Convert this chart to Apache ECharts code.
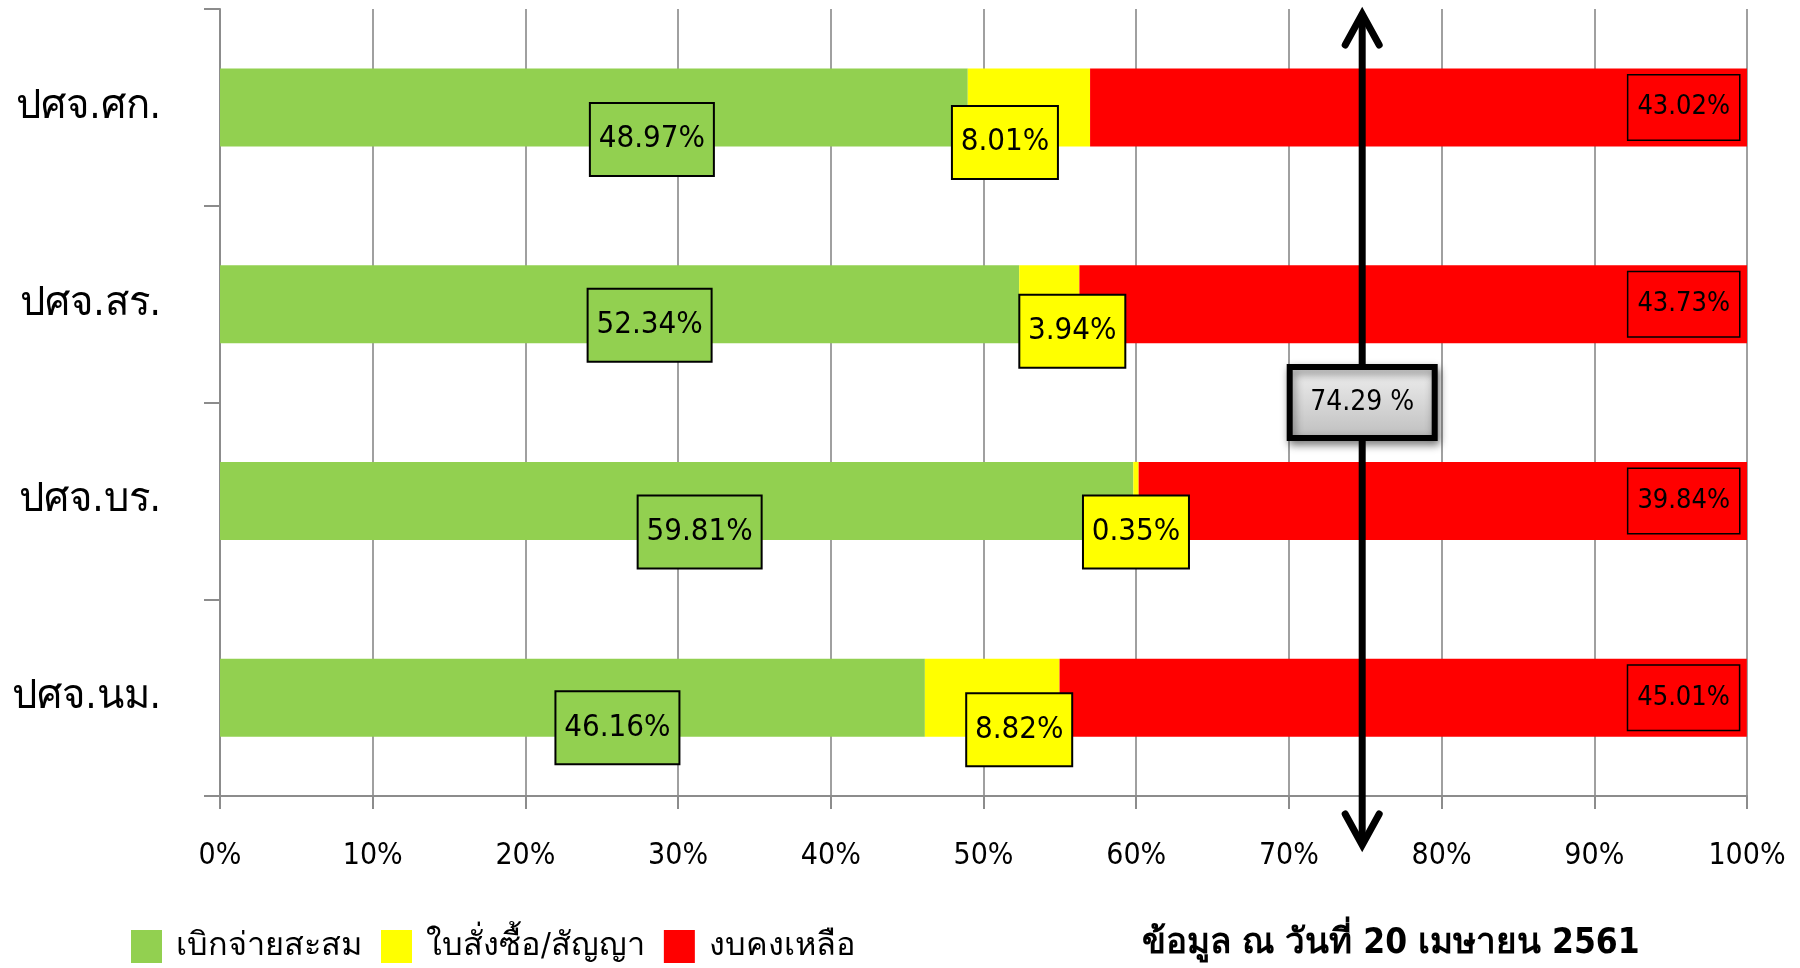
<!DOCTYPE html>
<html>
<head>
<meta charset="utf-8">
<script src="https://cdn.jsdelivr.net/npm/echarts@6/dist/echarts.min.js"></script>
<style>
html,body{margin:0;padding:0;background:#fff;}
#chart{width:1800px;height:968px;}
</style>
</head>
<body>
<div id="chart"></div>
<script>
const categories = ['ปศจ.ศก.', 'ปศจ.สร.', 'ปศจ.บร.', 'ปศจ.นม.'];
const seriesNames = ['เบิกจ่ายสะสม', 'ใบสั่งซื้อ/สัญญา', 'งบคงเหลือ'];
const disbursed = [48.97, 52.34, 59.81, 46.16];
const ordered = [8.01, 3.94, 0.35, 8.82];
const remaining = [43.02, 43.73, 39.84, 45.01];
const xTicks = [0, 10, 20, 30, 40, 50, 60, 70, 80, 90, 100];
const overallLabel = '74.29 %';
const arrowAt = 74.8;
const dateNote = 'ข้อมูล ณ วันที่ 20 เมษายน 2561';

// label nudges (pixels)
const greenNudge = [[58, 32], [30, 21], [23, 31], [45, 30]];
const yellowNudge = [[-24, 35], [23, 27], [0, 31], [27, 32]];

const FONT = "'Liberation Sans Narrow', 'DejaVu Sans Condensed', 'Noto Sans', sans-serif";
const colors = ['#92D050', '#FFFF00', '#FF0000'];

const chart = echarts.init(document.getElementById('chart'));

function boxLabel(color, nudge, i, fs, w, h, pad) {
  return {
    show: true,
    position: 'inside',
    offset: nudge[i],
    formatter: p => p.value.toFixed(2) + '%',
    color: '#000',
    fontFamily: FONT,
    fontSize: fs,
    backgroundColor: color,
    borderColor: '#000',
    borderWidth: 2,
    padding: pad,
    width: w,
    height: h,
    lineHeight: h,
    align: 'center',
    verticalAlign: 'middle'
  };
}

const greenData = disbursed.map((v, i) => ({ value: v, label: boxLabel(colors[0], greenNudge, i, 31, 96, 35, [18, 13]) }));
const yellowData = ordered.map((v, i) => ({ value: v, label: boxLabel(colors[1], yellowNudge, i, 31, 78, 35, [18, 13]) }));
const redLabel = {
  show: true,
  position: 'insideRight',
  distance: 8,
  formatter: p => p.value.toFixed(2) + '%',
  color: '#000',
  fontFamily: FONT,
  fontSize: 27,
  lineHeight: 30,
  backgroundColor: colors[2],
  borderColor: '#000',
  borderWidth: 1.5,
  padding: [17, 9]
};

const option = {
  animation: false,
  backgroundColor: '#fff',
  textStyle: { fontFamily: FONT },
  grid: { left: 220, right: 53, top: 9, bottom: 172, containLabel: false },
  legend: {
    data: seriesNames,
    left: 126,
    top: 925,
    itemWidth: 31,
    itemHeight: 33,
    itemGap: 19,
    icon: 'rect',
    textStyle: { fontSize: 32.5, color: '#000', fontFamily: FONT, padding: [0, 0, 0, 9] }
  },
  xAxis: {
    type: 'value',
    min: 0,
    max: 100,
    interval: 10,
    axisLine: { show: true, lineStyle: { color: '#8C8C8C', width: 2 } },
    axisTick: { show: true, length: 13, lineStyle: { color: '#8C8C8C', width: 2 } },
    splitLine: { show: true, lineStyle: { color: '#A0A0A0', width: 2 } },
    axisLabel: {
      formatter: v => xTicks.includes(v) ? v + '%' : '',
      fontSize: 30,
      color: '#000',
      fontFamily: FONT,
      margin: 45
    }
  },
  yAxis: {
    type: 'category',
    data: categories,
    inverse: true,
    axisLine: { show: true, lineStyle: { color: '#8C8C8C', width: 2 } },
    axisTick: { show: true, length: 16, alignWithLabel: false, lineStyle: { color: '#8C8C8C', width: 2 } },
    splitLine: { show: false },
    axisLabel: { fontSize: 40, color: '#000', fontFamily: FONT, margin: 59 }
  },
  series: [
    { name: seriesNames[0], type: 'bar', stack: 'total', barWidth: 78, itemStyle: { color: colors[0] }, data: greenData, z: 2 },
    { name: seriesNames[1], type: 'bar', stack: 'total', barWidth: 78, itemStyle: { color: colors[1] }, data: yellowData, z: 2 },
    { name: seriesNames[2], type: 'bar', stack: 'total', barWidth: 78, itemStyle: { color: colors[2] }, label: redLabel, data: remaining, z: 2 }
  ]
};
chart.setOption(option);

function drawOverlay() {
  const x = chart.convertToPixel({ xAxisIndex: 0 }, arrowAt);
  const y1 = chart.convertToPixel({ yAxisIndex: 0 }, categories[1]);
  const y2 = chart.convertToPixel({ yAxisIndex: 0 }, categories[2]);
  const yMid = (y1 + y2) / 2;
  const top = 14, bottom = 845;
  const bw = 145, bh = 71;
  chart.setOption({
    graphic: [
      { type: 'line', z: 50, shape: { x1: x, y1: top + 2, x2: x, y2: bottom - 2 }, style: { stroke: '#000', lineWidth: 7 } },
      { type: 'polyline', z: 50, shape: { points: [[x - 17, top + 31], [x, top], [x + 17, top + 31]] }, style: { stroke: '#000', lineWidth: 7, fill: null, lineCap: 'round', lineJoin: 'miter' } },
      { type: 'polyline', z: 50, shape: { points: [[x - 17, bottom - 31], [x, bottom], [x + 17, bottom - 31]] }, style: { stroke: '#000', lineWidth: 7, fill: null, lineCap: 'round', lineJoin: 'miter' } },
      {
        type: 'rect', z: 60,
        shape: { x: x - bw / 2, y: yMid - bh / 2, width: bw, height: bh },
        style: {
          fill: new echarts.graphic.LinearGradient(0, 0, 0, 1, [{ offset: 0, color: '#F2F2F2' }, { offset: 1, color: '#BDBDBD' }]),
          stroke: '#000', lineWidth: 6,
          shadowBlur: 8, shadowOffsetX: 2, shadowOffsetY: 4, shadowColor: 'rgba(0,0,0,0.45)'
        }
      },
      {
        type: 'text', z: 61,
        x: x, y: yMid,
        style: { text: overallLabel, fontSize: 28, fontFamily: FONT, fill: '#000', align: 'center', verticalAlign: 'middle' }
      },
      {
        type: 'text', z: 61,
        x: 1391, y: 944,
        style: { text: dateNote, fontSize: 35, fontWeight: 'bold', fontFamily: FONT, fill: '#000', align: 'center', verticalAlign: 'middle' }
      }
    ]
  });
}
drawOverlay();
</script>
</body>
</html>
